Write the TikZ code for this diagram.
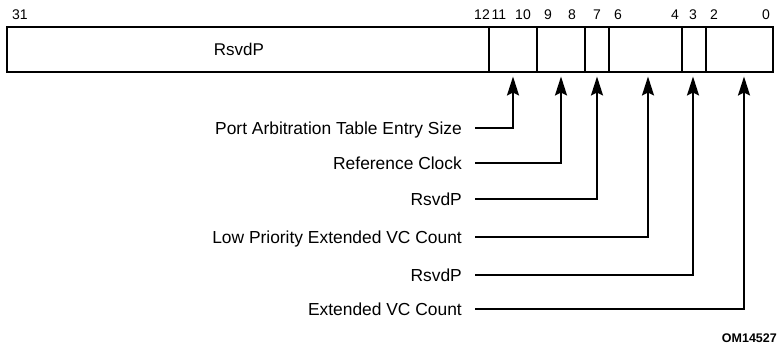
\documentclass[tikz,border=0pt]{standalone}
\usepackage{fontspec}
\setmainfont{Liberation Sans}
\usepackage{tikz}
\usetikzlibrary{arrows.meta, positioning, calc}
\tikzstyle{field} = [rectangle, draw=black, line width=1.3pt, minimum height=45pt, inner sep=0pt, outer sep=0pt, font=\fontsize{17}{19}\selectfont]
\tikzstyle{bitno} = [inner sep=0pt, font=\fontsize{14}{16}\selectfont]
\tikzstyle{desc} = [anchor=east, inner sep=0pt, text height=12.5pt, text depth=0pt, font=\fontsize{17.4}{19}\selectfont]
\tikzstyle{conn} = [line width=2pt, -{Stealth[length=19pt,width=12pt,inset=3pt]}]

\begin{document}
\begin{tikzpicture}[x=1pt, y=-1pt]
        \useasboundingbox (0,0) rectangle (778,349);

        % Register fields
        \node [field, minimum width=482pt, anchor=west] (f31) at (7,49.5) {};
        \node at (239,49.5) [font=\fontsize{17}{19}\selectfont] (rsvdtext) {RsvdP};
        \node [field, minimum width=48pt, right=0pt of f31] (f11) {};
        \node [field, minimum width=48pt, right=0pt of f11] (f9) {};
        \node [field, minimum width=24pt, right=0pt of f9] (f7) {};
        \node [field, minimum width=73pt, right=0pt of f7] (f6) {};
        \node [field, minimum width=24pt, right=0pt of f6] (f3) {};
        \node [field, minimum width=67pt, right=0pt of f3] (f2) {};
        \draw [line width=2pt] (f31.north west) rectangle (f2.south east);

        % Bit numbers
        \foreach \x/\b in {20/31, 482/12, 499/11, 523/10, 548/9, 572/8, 597/7, 618/6, 675/4, 693/3, 714/2, 766/0}
            \node [bitno] (bit\b) at (\x,15) {\b};

        % Field descriptions
        \node [desc] (lpa) at (462,128) {Port Arbitration Table Entry Size};
        \node [desc] (lrc) at (462,163) {Reference Clock};
        \node [desc] (lr7) at (462,199) {RsvdP};
        \node [desc] (llp) at (462,237) {Low Priority Extended VC Count};
        \node [desc] (lr3) at (462,275) {RsvdP};
        \node [desc] (lvc) at (462,309) {Extended VC Count};

        % Connectors
        \draw [conn] ([xshift=13pt]lpa.east) -| ([yshift=-4.5pt]f11.south);
        \draw [conn] ([xshift=13pt]lrc.east) -| ([yshift=-4.5pt]f9.south);
        \draw [conn] ([xshift=13pt]lr7.east) -| ([yshift=-4.5pt]f7.south);
        \draw [conn] ([xshift=13pt]llp.east) -| ([xshift=2.5pt,yshift=-4.5pt]f6.south);
        \draw [conn] ([xshift=13pt]lr3.east) -| ([xshift=-1pt,yshift=-4.5pt]f3.south);
        \draw [conn] ([xshift=13pt]lvc.east) -| ([xshift=4.5pt,yshift=-4.5pt]f2.south);

        \node [anchor=east, inner sep=0pt, font=\bfseries\fontsize{12.5}{14}\selectfont] (figid) at (777,338) {OM14527};
    \end{tikzpicture}
\end{document}
